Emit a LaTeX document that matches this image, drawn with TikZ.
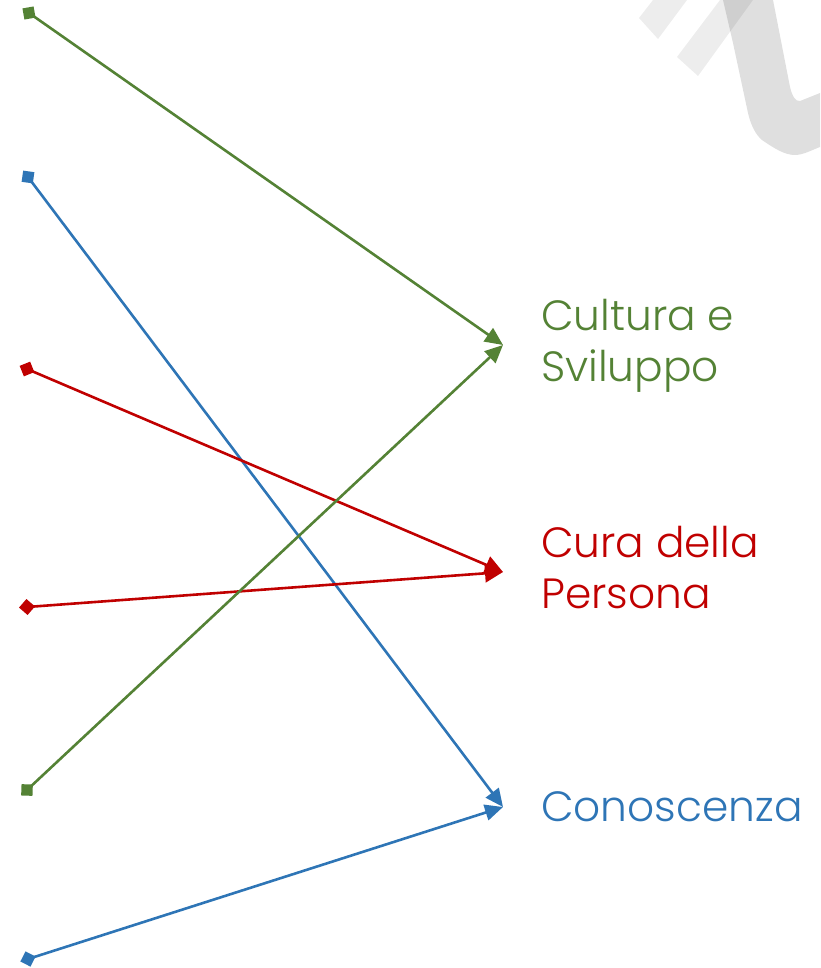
\documentclass[tikz,border=0pt]{standalone}
\usepackage{fontspec}
\setmainfont{Poppins}[UprightFont=* Light]
\usetikzlibrary{arrows.meta}
\definecolor{cgreen}{HTML}{548235}
\definecolor{cred}{HTML}{C00000}
\definecolor{cblue}{HTML}{2E75B6}
\tikzset{
  link/.style={line width=2.6pt,shorten <=-8pt,{Diamond[length=16pt,width=16pt]}-{Triangle[length=18pt,width=16pt]}},
  redhead/.style={{Diamond[length=16pt,width=16pt]}-{Triangle[length=18pt,width=18pt]}},
  label/.style={anchor=north west,inner sep=0pt,align=left,font=\fontsize{42.3}{51}\selectfont}
}
\begin{document}
\begin{tikzpicture}[x=1pt,y=-1pt]
\useasboundingbox (0,0) rectangle (820,968);
\fill[black,opacity=.07] (639,18) -- (658,39) -- (687,0) -- (653,0) -- cycle;
\fill[black,opacity=.07] (677,57) -- (698,76) -- (753,0) -- (720,0) -- cycle;
\fill[black,opacity=.125] (723,0) -- (733,43) -- (748,113) .. controls (751,126) and (756,135) .. (762,140) .. controls (775,149) and (785,155) .. (795,155) .. controls (803,155) and (812,150) .. (820,147) -- (820,93) -- (800,101) .. controls (795,102) and (792,95) .. (790,87) -- (773,0) -- cycle;
\coordinate (g1) at (29,13);
\coordinate (b1) at (28,177);
\coordinate (r1) at (27,369);
\coordinate (r2) at (27,607);
\coordinate (g2) at (27,790);
\coordinate (b2) at (28,959);
\coordinate (gt) at (503,345);
\coordinate (rt) at (503,572);
\coordinate (bt) at (503,807);
\draw[link,cgreen] (g1) -- (gt);
\draw[link,cblue] (b1) -- (bt);
\draw[link,redhead,cred] (r1) -- (rt);
\draw[link,redhead,cred] (r2) -- (rt);
\draw[link,cgreen] (g2) -- (gt);
\draw[link,cblue] (b2) -- (bt);
\node[label,text=cgreen] (tg) at (541,299) {Cultura e\\Sviluppo};
\node[label,text=cred] (tr) at (541,526) {Cura della\\Persona};
\node[label,text=cblue] (tb) at (541,791) {Conoscenza};
\end{tikzpicture}
\end{document}
